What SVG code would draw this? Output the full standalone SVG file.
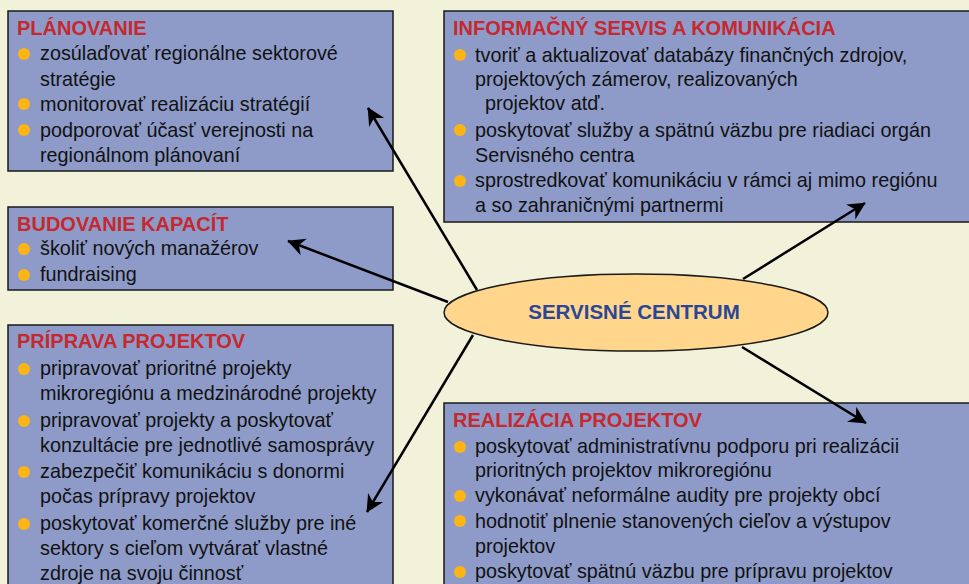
<svg xmlns="http://www.w3.org/2000/svg" width="969" height="584" viewBox="0 0 969 584">
<style>
.box{fill:#8E9BC8;stroke:#1a1a1a;stroke-width:1.5}
.t{font-family:"Liberation Sans",Arial,sans-serif;font-weight:bold;font-size:20px;fill:#C5282F}
.b{font-family:"Liberation Sans",Arial,sans-serif;font-size:19.8px;fill:#111}
.dot{fill:#FDB515}
.c{stroke:#000;stroke-width:2.5;fill:none;marker-end:url(#ah)}
</style>
<defs>
<marker id="ah" viewBox="0 0 10 10" refX="9" refY="5" markerWidth="8" markerHeight="8" markerUnits="userSpaceOnUse" orient="auto" style="overflow:visible">
<path d="M0,0 L10,5 L0,10 L3,5 Z" fill="#000" transform="scale(2.2) translate(-5.5,-2.7)"/>
</marker>
</defs>
<rect width="969" height="584" fill="#F2F1D9"/>
<g id="planovanie">
<rect class="box" x="8" y="11" width="385" height="160"/>
<text class="t" x="17" y="35">PLÁNOVANIE</text>
<circle class="dot" cx="24" cy="54" r="6"/>
<circle class="dot" cx="24" cy="104" r="6"/>
<circle class="dot" cx="24" cy="130" r="6"/>
<text class="b" x="40" y="60">zosúlaďovať regionálne sektorové</text>
<text class="b" x="40" y="86">stratégie</text>
<text class="b" x="40" y="111">monitorovať realizáciu stratégií</text>
<text class="b" x="40" y="137">podporovať účasť verejnosti na</text>
<text class="b" x="40" y="162">regionálnom plánovaní</text>
</g>
<g id="informacny">
<rect class="box" x="444" y="11" width="530" height="211"/>
<text class="t" x="453" y="35">INFORMAČNÝ SERVIS A KOMUNIKÁCIA</text>
<circle class="dot" cx="460" cy="55" r="6"/>
<circle class="dot" cx="460" cy="130" r="6"/>
<circle class="dot" cx="460" cy="181" r="6"/>
<text class="b" x="475" y="62">tvoriť a aktualizovať databázy finančných zdrojov,</text>
<text class="b" x="475" y="86">projektových zámerov, realizovaných</text>
<text class="b" x="485" y="110">projektov atď.</text>
<text class="b" x="475" y="137">poskytovať služby a spätnú väzbu pre riadiaci orgán</text>
<text class="b" x="475" y="162">Servisného centra</text>
<text class="b" x="475" y="187">sprostredkovať komunikáciu v rámci aj mimo regiónu</text>
<text class="b" x="475" y="212">a so zahraničnými partnermi</text>
</g>
<g id="budovanie">
<rect class="box" x="8" y="207" width="385" height="83"/>
<text class="t" x="17" y="231">BUDOVANIE KAPACÍT</text>
<circle class="dot" cx="24" cy="249" r="6"/>
<circle class="dot" cx="24" cy="275" r="6"/>
<text class="b" x="40" y="255">školiť nových manažérov</text>
<text class="b" x="40" y="281">fundraising</text>
</g>
<g id="priprava">
<rect class="box" x="8" y="325" width="385" height="270"/>
<text class="t" x="17" y="348">PRÍPRAVA PROJEKTOV</text>
<circle class="dot" cx="24" cy="369" r="6"/>
<circle class="dot" cx="24" cy="421" r="6"/>
<circle class="dot" cx="24" cy="472" r="6"/>
<circle class="dot" cx="24" cy="524" r="6"/>
<text class="b" x="40" y="375">pripravovať prioritné projekty</text>
<text class="b" x="40" y="400">mikroregiónu a medzinárodné projekty</text>
<text class="b" x="40" y="427">pripravovať projekty a poskytovať</text>
<text class="b" x="40" y="452">konzultácie pre jednotlivé samosprávy</text>
<text class="b" x="40" y="478">zabezpečiť komunikáciu s donormi</text>
<text class="b" x="40" y="503">počas prípravy projektov</text>
<text class="b" x="40" y="530">poskytovať komerčné služby pre iné</text>
<text class="b" x="40" y="555">sektory s cieľom vytvárať vlastné</text>
<text class="b" x="40" y="580">zdroje na svoju činnosť</text>
</g>
<g id="realizacia">
<rect class="box" x="444" y="403" width="530" height="190"/>
<text class="t" x="453" y="427">REALIZÁCIA PROJEKTOV</text>
<circle class="dot" cx="460" cy="447" r="6"/>
<circle class="dot" cx="460" cy="496" r="6"/>
<circle class="dot" cx="460" cy="521" r="6"/>
<circle class="dot" cx="460" cy="572" r="6"/>
<text class="b" x="475" y="453">poskytovať administratívnu podporu pri realizácii</text>
<text class="b" x="475" y="477">prioritných projektov mikroregiónu</text>
<text class="b" x="475" y="502">vykonávať neformálne audity pre projekty obcí</text>
<text class="b" x="475" y="528">hodnotiť plnenie stanovených cieľov a výstupov</text>
<text class="b" x="475" y="553">projektov</text>
<text class="b" x="475" y="578">poskytovať spätnú väzbu pre prípravu projektov</text>
</g>
<g id="connectors">
<line class="c" x1="477" y1="290" x2="368" y2="108"/>
<line class="c" x1="448" y1="302" x2="288" y2="241"/>
<line class="c" x1="473" y1="335" x2="367" y2="512"/>
<line class="c" x1="743" y1="279" x2="865" y2="203"/>
<line class="c" x1="742" y1="347" x2="866" y2="423"/>
</g>
<g id="centrum">
<ellipse cx="636" cy="312.5" rx="192" ry="38.5" fill="#FFD68C" stroke="#1a1a1a" stroke-width="1.5"/>
<text x="634" y="319" text-anchor="middle" font-family="Liberation Sans,Arial,sans-serif" font-weight="bold" font-size="20.5" fill="#2B4699">SERVISNÉ CENTRUM</text>
</g>
</svg>
